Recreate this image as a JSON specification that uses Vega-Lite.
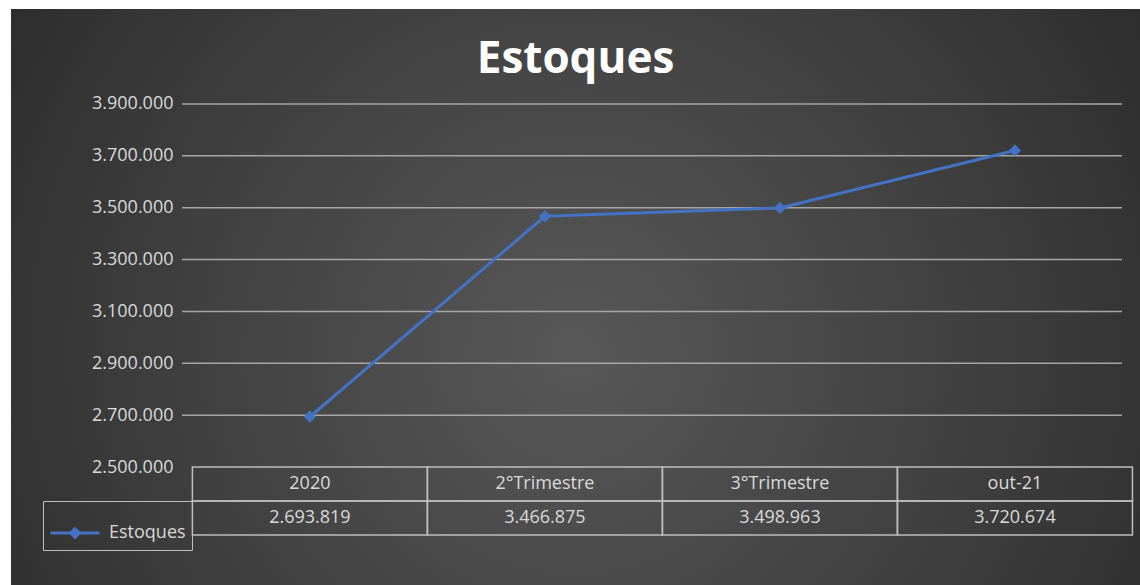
{
  "$schema": "https://vega.github.io/schema/vega-lite/v6.json",
  "width": 1129,
  "height": 576,
  "autosize": {"type": "none"},
  "padding": {"left": 11, "top": 9, "right": 0, "bottom": 0},
  "background": "#ffffff",
  "title": {"text": "Estoques", "font": "Open Sans", "fontSize": 44, "fontWeight": "bold", "color": "#ffffff", "anchor": "middle", "baseline": "alphabetic", "offset": -66, "dy": 42},
  "config": {
    "font": "Open Sans",
    "view": {
      "stroke": null,
      "fill": {"gradient": "radial", "x1": 0.5, "y1": 0.55, "x2": 0.5, "y2": 0.55, "r1": 0, "r2": 0.72,
        "stops": [{"offset": 0, "color": "#585858"}, {"offset": 0.55, "color": "#3c3c3c"}, {"offset": 1, "color": "#232323"}]}
    }
  },
  "data": {"values": [
      {"periodo": "2020", "estoque": 2693819},
      {"periodo": "2°Trimestre", "estoque": 3466875},
      {"periodo": "3°Trimestre", "estoque": 3498963},
      {"periodo": "out-21", "estoque": 3720674}
  ]},
  "layer": [
    {
      "data": {"values": [
        {"valor": 2700000}, {"valor": 2900000}, {"valor": 3100000}, {"valor": 3300000},
        {"valor": 3500000}, {"valor": 3700000}, {"valor": 3900000}
      ]},
      "mark": {"type": "tick", "orient": "horizontal", "size": 940, "thickness": 1.5, "color": "#a6a6a6", "opacity": 1, "xOffset": 76.5},
      "encoding": {
        "y": {"field": "valor", "type": "quantitative",
          "scale": {"domain": [2044904, 4266391], "nice": false, "zero": false},
          "axis": {"orient": "left", "offset": -162, "values": [2500000, 2700000, 2900000, 3100000, 3300000, 3500000, 3700000, 3900000],
            "labelExpr": "replace(format(datum.value, ','), /,/g, '.')", "domain": false, "ticks": false, "grid": false, "labelPadding": 0,
            "labelColor": "#d9d9d9", "labelFontSize": 18, "labelFont": "Open Sans", "title": null}}
      }
    },
    {
      "mark": {"type": "rect", "fill": "transparent", "stroke": "#bfbfbf", "strokeWidth": 1.5},
      "encoding": {
        "x": {"field": "periodo", "type": "nominal", "sort": null, "axis": null,
          "scale": {"type": "band", "domain": ["2020", "2°Trimestre", "3°Trimestre", "out-21"], "paddingInner": 0, "paddingOuter": 0.402, "align": 0.96}},
        "y": {"datum": 2500000, "type": "quantitative",
          "scale": {"domain": [2044904, 4266391], "nice": false, "zero": false},
          "axis": {"orient": "left", "offset": -162, "values": [2500000, 2700000, 2900000, 3100000, 3300000, 3500000, 3700000, 3900000],
            "labelExpr": "replace(format(datum.value, ','), /,/g, '.')", "domain": false, "ticks": false, "grid": false, "labelPadding": 0,
            "labelColor": "#d9d9d9", "labelFontSize": 18, "labelFont": "Open Sans", "title": null}},
        "y2": {"datum": 2368870}
      }
    },
    {
      "mark": {"type": "rect", "fill": "transparent", "stroke": "#bfbfbf", "strokeWidth": 1.5},
      "encoding": {
        "x": {"field": "periodo", "type": "nominal", "sort": null, "axis": null,
          "scale": {"type": "band", "domain": ["2020", "2°Trimestre", "3°Trimestre", "out-21"], "paddingInner": 0, "paddingOuter": 0.402, "align": 0.96}},
        "y": {"datum": 2368870, "type": "quantitative",
          "scale": {"domain": [2044904, 4266391], "nice": false, "zero": false},
          "axis": {"orient": "left", "offset": -162, "values": [2500000, 2700000, 2900000, 3100000, 3300000, 3500000, 3700000, 3900000],
            "labelExpr": "replace(format(datum.value, ','), /,/g, '.')", "domain": false, "ticks": false, "grid": false, "labelPadding": 0,
            "labelColor": "#d9d9d9", "labelFontSize": 18, "labelFont": "Open Sans", "title": null}},
        "y2": {"datum": 2237740}
      }
    },
    {
      "mark": {"type": "text", "color": "#d9d9d9", "fontSize": 18, "baseline": "middle", "align": "center"},
      "encoding": {
        "x": {"field": "periodo", "type": "nominal", "sort": null, "axis": null,
          "scale": {"type": "band", "domain": ["2020", "2°Trimestre", "3°Trimestre", "out-21"], "paddingInner": 0, "paddingOuter": 0.402, "align": 0.96}},
        "y": {"datum": 2434435, "type": "quantitative",
          "scale": {"domain": [2044904, 4266391], "nice": false, "zero": false},
          "axis": {"orient": "left", "offset": -162, "values": [2500000, 2700000, 2900000, 3100000, 3300000, 3500000, 3700000, 3900000],
            "labelExpr": "replace(format(datum.value, ','), /,/g, '.')", "domain": false, "ticks": false, "grid": false, "labelPadding": 0,
            "labelColor": "#d9d9d9", "labelFontSize": 18, "labelFont": "Open Sans", "title": null}},
        "text": {"field": "periodo", "type": "nominal"}
      }
    },
    {
      "mark": {"type": "text", "color": "#d9d9d9", "fontSize": 18, "baseline": "middle", "align": "center",
        "text": {"expr": "replace(format(datum.estoque, ','), /,/g, '.')"}},
      "encoding": {
        "x": {"field": "periodo", "type": "nominal", "sort": null, "axis": null,
          "scale": {"type": "band", "domain": ["2020", "2°Trimestre", "3°Trimestre", "out-21"], "paddingInner": 0, "paddingOuter": 0.402, "align": 0.96}},
        "y": {"datum": 2303305, "type": "quantitative",
          "scale": {"domain": [2044904, 4266391], "nice": false, "zero": false},
          "axis": {"orient": "left", "offset": -162, "values": [2500000, 2700000, 2900000, 3100000, 3300000, 3500000, 3700000, 3900000],
            "labelExpr": "replace(format(datum.value, ','), /,/g, '.')", "domain": false, "ticks": false, "grid": false, "labelPadding": 0,
            "labelColor": "#d9d9d9", "labelFontSize": 18, "labelFont": "Open Sans", "title": null}}
      }
    },
    {
      "mark": {"type": "line", "strokeWidth": 3, "point": {"shape": "diamond", "size": 150, "filled": true}},
      "encoding": {
        "x": {"field": "periodo", "type": "nominal", "sort": null, "axis": null,
          "scale": {"type": "band", "domain": ["2020", "2°Trimestre", "3°Trimestre", "out-21"], "paddingInner": 0, "paddingOuter": 0.402, "align": 0.96}},
        "y": {"field": "estoque", "type": "quantitative",
          "scale": {"domain": [2044904, 4266391], "nice": false, "zero": false},
          "axis": {"orient": "left", "offset": -162, "values": [2500000, 2700000, 2900000, 3100000, 3300000, 3500000, 3700000, 3900000],
            "labelExpr": "replace(format(datum.value, ','), /,/g, '.')", "domain": false, "ticks": false, "grid": false, "labelPadding": 0,
            "labelColor": "#d9d9d9", "labelFontSize": 18, "labelFont": "Open Sans", "title": null}},
        "color": {
          "datum": "Estoques",
          "scale": {"range": ["#4472c4"]},
          "legend": {
            "orient": "none", "legendX": 32, "legendY": 492, "title": null,
            "symbolType": "M-1,0H1M0,-0.18L0.18,0L0,0.18L-0.18,0Z", "symbolSize": 2400, "symbolStrokeWidth": 3,
            "symbolFillColor": "#4472c4", "labelColor": "#d9d9d9", "labelFontSize": 18, "labelFont": "Open Sans",
            "strokeColor": "#bfbfbf", "padding": 6, "labelOffset": 8
          }
        }
      }
    }
  ]
}
